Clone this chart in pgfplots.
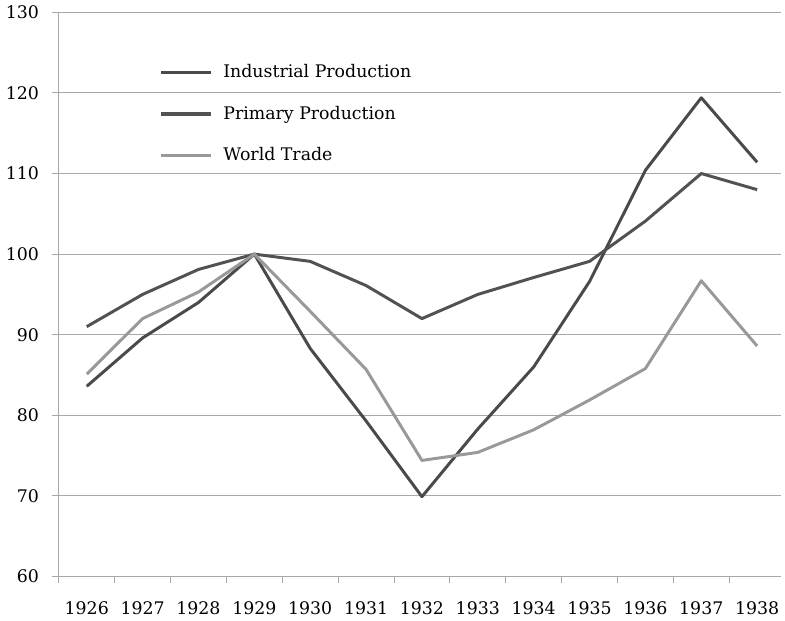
\documentclass[border=0pt]{standalone}
\usepackage{pgfplots}
\pgfplotsset{compat=1.18}
\usepackage{fontspec}
\setmainfont{DejaVu Serif}
\definecolor{indc}{HTML}{4A4A4A}
\definecolor{primc}{HTML}{525252}
\definecolor{wtc}{HTML}{999999}
\definecolor{gridc}{HTML}{A8A8A8}
\begin{document}
\fontsize{17.5}{21}\selectfont
\begin{tikzpicture}
\begin{axis}[
  scale only axis,
  width=726bp, height=567bp,
  xmin=-0.5, xmax=12.43,
  ymin=60, ymax=130,
  axis x line=bottom, axis y line=left,
  axis line style={draw=gridc, line width=0.9pt, -},
  ytick={60,70,...,130},
  ymajorgrids,
  major grid style={draw=gridc, line width=0.9pt},
  xtick={0,...,12},
  xticklabels={1926,1927,1928,1929,1930,1931,1932,1933,1934,1935,1936,1937,1938},
  minor xtick={-0.5,0.5,...,11.5},
  tick align=outside,
  major x tick style={draw=none},
  major y tick style={draw=gridc, line width=0.9pt},
  minor x tick style={draw=gridc, line width=0.9pt},
  major tick length=7bp,
  minor tick length=7bp,
  tick label style={font=\fontsize{17.5}{21}\selectfont, text=black},
  xticklabel style={yshift=-12bp},
  yticklabel style={xshift=-7bp},
  /pgf/number format/assume math mode=true,
  /pgf/number format/1000 sep={},
  legend style={at={(0.135,0.915)}, anchor=north west, draw=none, fill=none,
    font=\fontsize{17.5}{21}\selectfont, row sep=22bp, nodes={inner sep=2bp}},
  legend cell align=left,
  legend image code/.code={\draw[#1, line width=3.2pt] (0bp,0bp) -- (50bp,0bp);},
  legend columns=1,
]
\addplot[indc, line width=3pt, line join=round] coordinates {
 (0,83.6) (1,89.6) (2,94.0) (3,100.0) (4,88.3) (5,79.3) (6,69.9) (7,78.3) (8,86.0) (9,96.6) (10,110.4) (11,119.4) (12,111.4)};
\addlegendentry{\hspace{9bp}Industrial Production}
\addplot[primc, line width=3pt, line join=round] coordinates {
 (0,91.0) (1,95.0) (2,98.1) (3,100.0) (4,99.1) (5,96.1) (6,92.0) (7,95.0) (8,97.1) (9,99.1) (10,104.1) (11,110.0) (12,108.0)};
\addlegendentry{\hspace{9bp}Primary Production}
\addplot[wtc, line width=3pt, line join=round] coordinates {
 (0,85.1) (1,92.0) (2,95.3) (3,100.0) (4,92.9) (5,85.7) (6,74.4) (7,75.4) (8,78.2) (9,81.9) (10,85.8) (11,96.7) (12,88.6)};
\addlegendentry{\hspace{9bp}World Trade}
\end{axis}
\end{tikzpicture}
\end{document}
